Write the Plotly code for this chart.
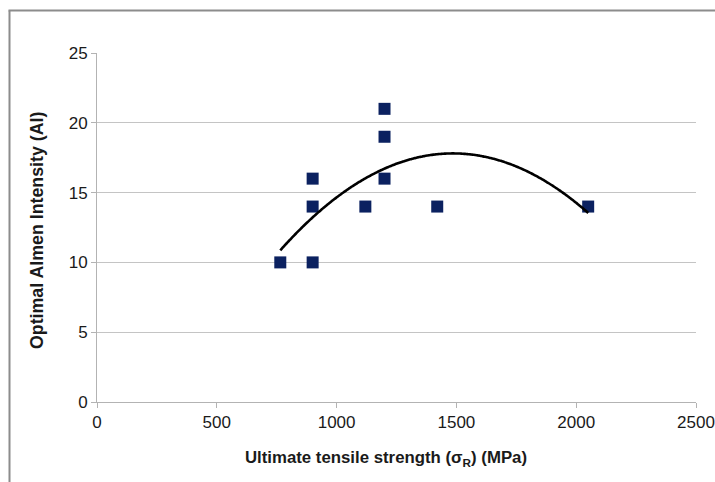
import numpy as np
import plotly.graph_objects as go

# Measured samples: ultimate tensile strength (MPa) vs optimal Almen intensity
strength_mpa = [765, 900, 900, 900, 1120, 1200, 1200, 1200, 1420, 2050]
almen_intensity = [10, 10, 14, 16, 14, 16, 19, 21, 14, 14]

x_ticks = [0, 500, 1000, 1500, 2000, 2500]
y_ticks = [0, 5, 10, 15, 20, 25]

x_title = "<b>Ultimate tensile strength (σ<sub>R</sub>) (MPa)</b>"
y_title = "<b>Optimal Almen Intensity (AI)</b>"

# Second-order polynomial trendline fitted to the samples
coef = np.polyfit(strength_mpa, almen_intensity, 2)
trend_x = np.linspace(min(strength_mpa), max(strength_mpa), 200)
trend_y = np.polyval(coef, trend_x)

W, H = 715, 482
L, R, T, B = 97, 19, 53, 80
FONT = "Liberation Sans, Arial, sans-serif"

fig = go.Figure()
fig.add_trace(go.Scatter(
    x=strength_mpa, y=almen_intensity, mode="markers",
    marker=dict(symbol="square", size=12, color="#0B2160",
                line=dict(width=0)),
    showlegend=False, hoverinfo="x+y",
))
fig.add_trace(go.Scatter(
    x=trend_x, y=trend_y, mode="lines",
    line=dict(color="black", width=2.6, shape="spline"),
    showlegend=False, hoverinfo="skip",
))

axis_common = dict(
    showline=True, linecolor="#b3b3b3", linewidth=1,
    ticks="outside", ticklen=5, tickcolor="#b3b3b3", tickwidth=1,
    zeroline=False, automargin=False,
    tickfont=dict(family=FONT, size=17, color="#1a1a1a"),
)

fig.update_layout(
    width=W, height=H,
    margin=dict(l=L, r=R, t=T, b=B, autoexpand=False),
    paper_bgcolor="white", plot_bgcolor="white",
    xaxis=dict(range=[0, 2500], tickvals=x_ticks, showgrid=False, **axis_common),
    yaxis=dict(range=[0, 25], tickvals=y_ticks, showgrid=True,
               gridcolor="#c4c4c4", gridwidth=1, **axis_common),
)

pw, ph = W - L - R, H - T - B
def px_to_paper_x(px):
    return (px - L) / pw
def px_to_paper_y(py):
    return (H - B - py) / ph

# Axis titles
fig.add_annotation(text=x_title, xref="paper", yref="paper",
                   x=px_to_paper_x(386), y=px_to_paper_y(459),
                   xanchor="center", yanchor="middle", showarrow=False,
                   font=dict(family=FONT, size=16.8, color="#1a1a1a"))
fig.add_annotation(text=y_title, xref="paper", yref="paper",
                   x=px_to_paper_x(37), y=px_to_paper_y(230),
                   xanchor="center", yanchor="middle", showarrow=False,
                   textangle=-90,
                   font=dict(family=FONT, size=17.8, color="#1a1a1a"))

# Outer chart frame (left and top edges)
fig.add_shape(type="line", xref="paper", yref="paper",
              x0=px_to_paper_x(9.5), x1=px_to_paper_x(9.5),
              y0=px_to_paper_y(H + 2), y1=px_to_paper_y(10.5),
              line=dict(color="#8c8c8c", width=2))
fig.add_shape(type="line", xref="paper", yref="paper",
              x0=px_to_paper_x(8.5), x1=px_to_paper_x(W + 2),
              y0=px_to_paper_y(10.5), y1=px_to_paper_y(10.5),
              line=dict(color="#8c8c8c", width=2))

fig.write_html("out.html")
